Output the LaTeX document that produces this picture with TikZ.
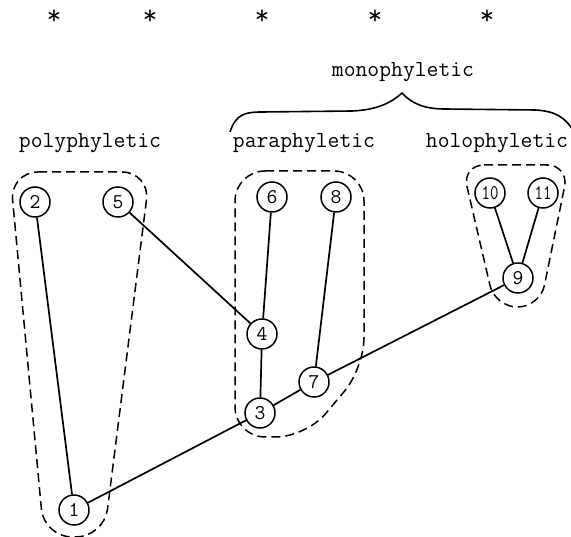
\documentclass[tikz,border=0pt]{standalone}
\usepackage{fontspec}
\begin{document}
\begin{tikzpicture}[x=1pt,y=-1pt,
  taxon/.style={draw,circle,line width=1.5pt,minimum size=30pt,inner sep=0pt,
    font=\ttfamily\fontsize{21}{24}\selectfont},
  branch/.style={line width=1.7pt},
  hull/.style={line width=1.5pt,dash pattern=on 9pt off 5pt,rounded corners=24pt},
  label/.style={anchor=base,inner sep=0pt,font=\ttfamily\fontsize{23}{26}\selectfont},
  star/.style={anchor=center,inner sep=0pt,font=\ttfamily\fontsize{28}{32}\selectfont}]
\useasboundingbox (0,0) rectangle (571,537);

% row of asterisks
\foreach \i/\x in {a/54,b/150,c/262,d/375,e/487}
  \node[star] (s\i) at (\x,17) {*};

% group names
\node[label] (mono) at (403,77) {monophyletic};
\node[label] (poly) at (90,148) {polyphyletic};
\node[label] (para) at (304,148) {paraphyletic};
\node[label] (holo) at (497,148) {holophyletic};

% brace over the monophyletic groups
\draw[line width=1.6pt] (230,132) .. controls (236,114) and (245,112) .. (262,112)
  -- (352,111) .. controls (375,110) and (390,104) .. (402,93)
  .. controls (412,104) and (425,109) .. (445,109)
  -- (535,110) .. controls (556,111) and (566,118) .. (574,132);

% taxa
\node[taxon] (n1) at (74,510) {1};
\node[taxon] (n2) at (35,202) {2};
\node[taxon] (n3) at (260,413) {3};
\node[taxon] (n4) at (262,334) {4};
\node[taxon] (n5) at (118,202) {5};
\node[taxon] (n6) at (272,197) {6};
\node[taxon] (n7) at (314,382) {7};
\node[taxon] (n8) at (336,197) {8};
\node[taxon] (n9) at (518,278) {9};
\node[taxon] (n10) at (490,193) {\scalebox{0.78}[1]{10}};
\node[taxon] (n11) at (543,193) {\scalebox{0.78}[1]{11}};

% branches
\draw[branch] (n1) -- (n2);
\draw[branch] (n1) -- (n3);
\draw[branch] (n3) -- (n7);
\draw[branch] (n7) -- (n9);
\draw[branch] (n3) -- (n4);
\draw[branch] (n4) -- (n5);
\draw[branch] (n4) -- (n6);
\draw[branch] (n7) -- (n8);
\draw[branch] (n9) -- (n10);
\draw[branch] (n9) -- (n11);

% group outlines
\draw[hull,rounded corners=28pt] (10,172) -- (150,172) -- (104,537) -- (44,537) -- cycle;
\draw[hull,rounded corners=30pt] (235,171) -- (364,171) -- (364,368) -- (306,437) -- (235,437) -- cycle;
\draw[hull,rounded corners=22pt] (462,165) -- (569,165) -- (540,307) -- (495,307) -- cycle;
\end{tikzpicture}
\end{document}
